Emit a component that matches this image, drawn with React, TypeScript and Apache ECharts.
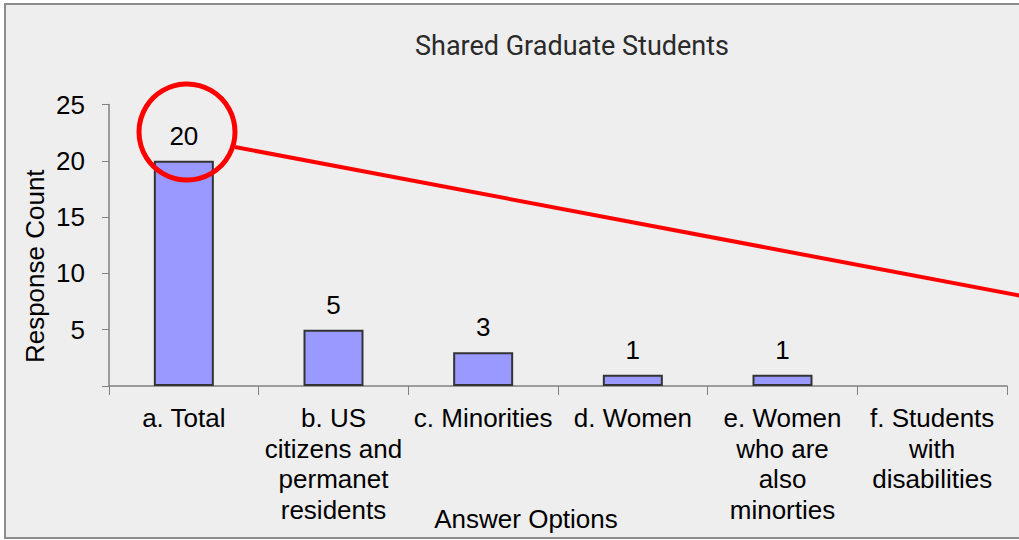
import React, { useEffect, useRef } from "react";
import * as echarts from "echarts";

const categories = [
  "a. Total",
  "b. US citizens and permanet residents",
  "c. Minorities",
  "d. Women",
  "e. Women who are also minorties",
  "f. Students with disabilities",
];
const categoryLabelLines = [
  ["a. Total"],
  ["b. US", "citizens and", "permanet", "residents"],
  ["c. Minorities"],
  ["d. Women"],
  ["e. Women", "who are", "also", "minorties"],
  ["f. Students", "with", "disabilities"],
];
const responseCounts = [20, 5, 3, 1, 1, 0];
const yTicks = { min: 0, max: 25, interval: 5 };

const FONT = "Liberation Sans, Arial, sans-serif";

export default function App() {
  const ref = useRef<HTMLDivElement>(null);
  useEffect(() => {
    const chart = echarts.init(ref.current!, null, { renderer: "svg" });
    chart.setOption({
      animation: false,
      backgroundColor: "#ffffff",
      textStyle: { fontFamily: FONT },
      title: {
        text: "Shared Graduate Students",
        left: 567,
        textAlign: "center",
        top: 27,
        textStyle: { fontFamily: "Roboto, " + FONT, fontSize: 27, fontWeight: "normal", color: "#2a2a2a" },
      },
      graphic: [
        {
          type: "rect",
          z: -10,
          shape: { x: 5, y: 4, width: 1040, height: 534 },
          style: { fill: "#eeeeee", stroke: "#8c8c8c", lineWidth: 2 },
          silent: true,
        },
        {
          type: "line",
          z: 100,
          shape: { x1: 235, y1: 147, x2: 1022, y2: 296 },
          style: { stroke: "#ff0000", lineWidth: 4 },
        },
        {
          type: "circle",
          z: 100,
          shape: { cx: 187, cy: 132, r: 48 },
          style: { fill: "none", stroke: "#ff0000", lineWidth: 5 },
        },
      ],
      grid: { left: 109, right: 12, top: 104.5, bottom: 154, containLabel: false, outerBoundsMode: "none" },
      xAxis: {
        type: "category",
        data: categories,
        name: "Answer Options",
        nameLocation: "middle",
        nameGap: 120,
        nameMoveOverlap: false,
        nameTextStyle: { fontSize: 26, color: "#000", fontFamily: FONT, padding: [0, 64, 0, 0] },
        axisLine: { lineStyle: { color: "#808080", width: 1.5 } },
        axisTick: { show: true, length: 9, lineStyle: { color: "#808080" }, alignWithLabel: false },
        axisLabel: {
          interval: 0,
          fontSize: 26,
          color: "#000",
          lineHeight: 30.5,
          margin: 17,
          fontFamily: FONT,
          formatter: (_v: string, i: number) => categoryLabelLines[i].join("\n"),
        },
      },
      yAxis: {
        type: "value",
        min: yTicks.min,
        max: yTicks.max,
        interval: yTicks.interval,
        name: "Response Count",
        nameLocation: "middle",
        nameGap: 61,
        nameMoveOverlap: false,
        nameTextStyle: { fontSize: 26, color: "#000", fontFamily: FONT, padding: [0, 42, 0, 0] },
        axisLine: { show: true, lineStyle: { color: "#808080", width: 1.5 } },
        axisTick: { show: true, length: 7, lineStyle: { color: "#808080" } },
        splitLine: { show: false },
        axisLabel: {
          fontSize: 26,
          color: "#000",
          margin: 24,
          fontFamily: FONT,
          formatter: (v: number) => (v === 0 ? "" : String(v)),
        },
      },
      series: [
        {
          type: "bar",
          data: responseCounts.map((v) =>
            v === 0 ? { value: v, itemStyle: { borderWidth: 0, opacity: 0 } } : v
          ),
          barWidth: 60,
          itemStyle: { color: "#9999ff", borderColor: "#333333", borderWidth: 2 },
          label: {
            show: true,
            position: "top",
            distance: 12,
            fontSize: 26,
            color: "#000",
            fontFamily: FONT,
            formatter: (p: any) => (p.value === 0 ? "" : String(p.value)),
          },
        },
      ],
    });
    return () => chart.dispose();
  }, []);
  return (
    <div
      ref={ref}
      style={{ position: "fixed", left: 0, top: 0, width: 1019, height: 540 }}
    />
  );
}
